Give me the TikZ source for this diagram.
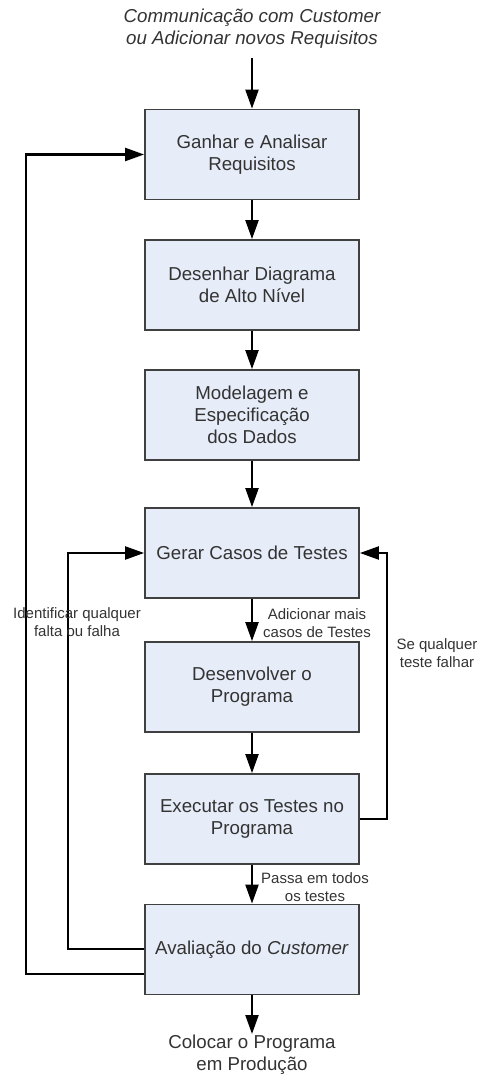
\documentclass[tikz,border=0pt]{standalone}
\usepackage{fontspec}
\setmainfont{Liberation Sans}
\usetikzlibrary{arrows.meta}
\definecolor{boxfill}{HTML}{E6ECF8}
\definecolor{boxline}{HTML}{404040}
\definecolor{ink}{HTML}{333333}
\begin{document}
\begin{tikzpicture}[x=1pt,y=-1pt,
  stepbox/.style={draw=boxline, line width=1.8pt, fill=boxfill,
    minimum width=214pt, minimum height=90pt, inner sep=0pt,
    align=center, text=ink, font=\fontsize{18.7}{22}\selectfont},
  bigtext/.style={align=center, text=ink, inner sep=0pt,
    font=\fontsize{18.7}{22}\selectfont},
  smalltext/.style={align=center, text=ink, inner sep=0pt,
    font=\fontsize{15}{18}\selectfont},
  arr/.style={line width=2.2pt, -{Triangle[length=19pt,width=13pt]}},
  ln/.style={line width=2.2pt}]
\useasboundingbox (0,0) rectangle (477,1075);

% process steps
\node[stepbox] (b1) at (252,154.5) {Ganhar e Analisar\\Requisitos};
\node[stepbox] (b2) at (252,285) {Desenhar Diagrama\\de Alto Nível};
\node[stepbox] (b3) at (252,415) {Modelagem e\\Especificação\\dos Dados};
\node[stepbox] (b4) at (252,553) {Gerar Casos de Testes};
\node[stepbox] (b5) at (252,687) {Desenvolver o\\Programa};
\node[stepbox] (b6) at (252,819) {Executar os Testes no\\Programa};
\node[stepbox] (b7) at (252,949.5) {Avaliação do \textit{Customer}};

% entry and exit texts
\node[bigtext, font=\fontsize{18.7}{22}\selectfont\itshape] (intro) at (252,29)
  {Communicação com Customer\\ou Adicionar novos Requisitos};
\coordinate (start) at (252,58);
\coordinate (finish) at (252,1034);
\node[bigtext] (prod) at (252,1055) {Colocar o Programa\\em Produção};

% main flow
\draw[arr] (start) -- (b1.north);
\draw[arr] (b1) -- (b2);
\draw[arr] (b2) -- (b3);
\draw[arr] (b3) -- (b4);
\draw[arr] (b4) -- (b5);
\draw[arr] (b5) -- (b6);
\draw[arr] (b6) -- (b7);
\draw[arr] (b7.south) -- (finish);

% feedback loops
\coordinate (outerL) at (26,974);
\coordinate (innerL) at (68,949);
\coordinate (rightR) at (387,819);
\draw[arr] (b7.west |- outerL) -- (outerL) |- (b1.west);
\draw[arr] (b7.west |- innerL) -- (innerL) |- (b4.west);
\draw[arr] (b6.east |- rightR) -- (rightR) |- (b4.east);

% connector labels
\node[smalltext] (lblfalha) at (77,622) {Identificar qualquer\\falta ou falha};
\node[smalltext] (lblmais) at (317,623) {Adicionar mais\\casos de Testes};
\node[smalltext] (lblfalhar) at (437,653) {Se qualquer\\teste falhar};
\node[smalltext] (lblpassa) at (315,887) {Passa em todos\\os testes};
\end{tikzpicture}
\end{document}
